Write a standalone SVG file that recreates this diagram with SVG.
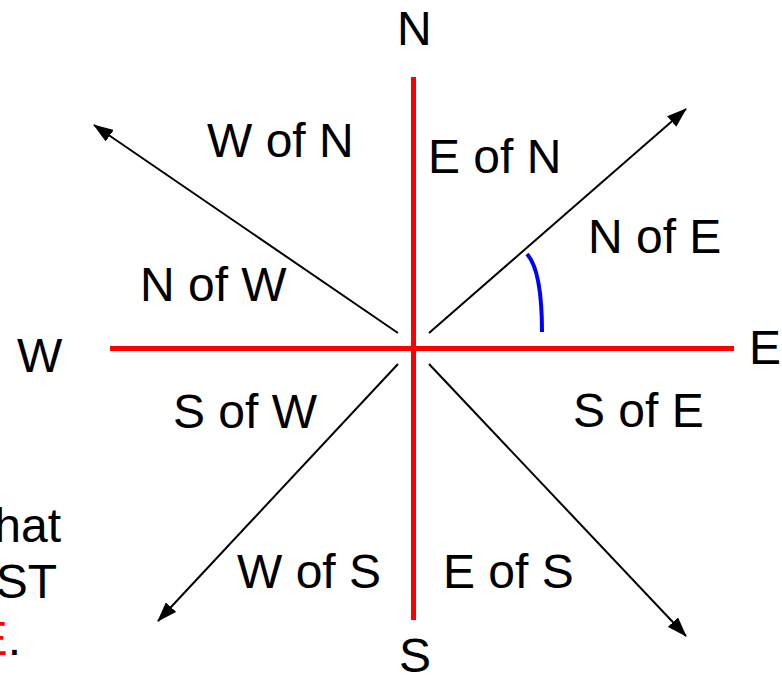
<svg xmlns="http://www.w3.org/2000/svg" width="782" height="678" viewBox="0 0 782 678">
  <style>
    text { font-family: "Liberation Sans", Arial, sans-serif; font-size: 48px; fill: #000; }
    .axis { stroke: #ff0000; stroke-width: 5; fill: none; }
    .arrow { stroke: #000; stroke-width: 2; fill: none; marker-end: url(#ah); }
    .angle { stroke: #0000ff; stroke-width: 4; fill: none; }
    .red { fill: #ff0000; }
  </style>
  <defs>
    <marker id="ah" viewBox="0 0 20 14" refX="19" refY="7" markerWidth="20" markerHeight="14" markerUnits="userSpaceOnUse" orient="auto">
      <path d="M0,0 L20,7 L0,14 z" fill="#000"/>
    </marker>
  </defs>
  <rect width="782" height="678" fill="#fff"/>

  <g id="axes">
    <line class="axis" x1="413.5" y1="77" x2="413.5" y2="620"/>
    <line class="axis" x1="110" y1="348.5" x2="734" y2="348.5"/>
  </g>

  <g id="connectors">
    <line class="arrow" x1="429" y1="333" x2="686" y2="109"/>
    <line class="arrow" x1="398" y1="333" x2="94" y2="125"/>
    <line class="arrow" x1="398" y1="364" x2="158" y2="621"/>
    <line class="arrow" x1="429" y1="364" x2="686" y2="636"/>
  </g>

  <g id="angle">
    <path class="angle" d="M527,254 C536,264 542,290 542,332"/>
  </g>

  <g id="label-N"><text x="397" y="45">N</text></g>
  <g id="label-S"><text x="399" y="672">S</text></g>
  <g id="label-W"><text x="17" y="372">W</text></g>
  <g id="label-E"><text x="749" y="364">E</text></g>

  <g id="label-WofN"><text x="207" y="157">W of N</text></g>
  <g id="label-EofN"><text x="428" y="173">E of N</text></g>
  <g id="label-NofE"><text x="588" y="253">N of E</text></g>
  <g id="label-NofW"><text x="140" y="301">N of W</text></g>
  <g id="label-SofW"><text x="173" y="428">S of W</text></g>
  <g id="label-SofE"><text x="573" y="427">S of E</text></g>
  <g id="label-WofS"><text x="237" y="588">W of S</text></g>
  <g id="label-EofS"><text x="443" y="588">E of S</text></g>

  <g id="side-text">
    <text x="61" y="542" text-anchor="end">hat</text>
    <text x="57" y="598" text-anchor="end">ST</text>
    <text x="21" y="655" text-anchor="end"><tspan class="red">E</tspan>.</text>
  </g>
</svg>
